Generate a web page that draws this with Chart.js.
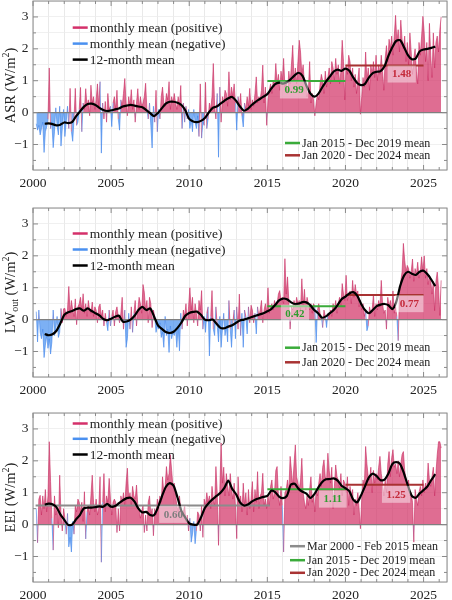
<!DOCTYPE html>
<html>
<head>
<meta charset="utf-8">
<script src="https://cdn.jsdelivr.net/npm/chart.js@4.4.0/dist/chart.umd.min.js"></script>
<style>
  html, body { margin: 0; padding: 0; background: #fff; overflow: hidden; }
  #wrap { position: relative; width: 452px; height: 600px; }
  .panel { position: absolute; left: 0; width: 452px; height: 205px; }
</style>
</head>
<body>
<div id="wrap">
  <div class="panel" style="top:-2px"><canvas id="asrChart"></canvas></div>
  <div class="panel" style="top:204.7px"><canvas id="lwChart"></canvas></div>
  <div class="panel" style="top:410.1px"><canvas id="eeiChart"></canvas></div>
</div>
<script>
// ==============================================================================
// 1. DATA (anomalies in W/m^2)
// ==============================================================================

// monthly series start in Mar 2000, one value per month up to Feb 2026
const FIRST_MONTH = 2000 + 2 / 12;
// 12-month means sampled every quarter from 2000.75 to 2025.75
const MEAN_START = 2000.75;
const MEAN_STEP = 0.25;

const xTickYears = [2000, 2005, 2010, 2015, 2020, 2025];
const yTickValues = [-1, 0, 1, 2, 3];

const legendLabels = ['monthly mean (positive)', 'monthly mean (negative)', '12-month mean'];
const periodLabels = ['Mar 2000 - Feb 2015 mean', 'Jan 2015 - Dec 2019 mean', 'Jan 2020 - Dec 2024 mean'];
const periodStart = [2000 + 2 / 12, 2015, 2020];
const periodEnd = [2015 + 2 / 12, 2020, 2025];

const asrPeriodMean = [null, 0.99, 1.48];
const lwPeriodMean = [null, 0.42, 0.77];
const eeiPeriodMean = [0.60, 1.11, 1.25];

const asrTitle = [['ASR (W/m', ''], ['2', 'sup'], [')', '']];
const lwTitle = [['LW', ''], ['out', 'sub'], [' (W/m', ''], ['2', 'sup'], [')', '']];
const eeiTitle = [['EEI (W/m', ''], ['2', 'sup'], [')', '']];

const asrMonthly = [
  -0.35,-0.55,-0.40,-0.70,-0.50,-0.30,-1.25,-0.60,-0.45,-0.20,            // 2000
  1.40,-0.50,-0.30,-1.10,-0.60,0.15,-0.40,-0.70,0.20,-1.05,-0.50,0.10,     // 2001
  -0.75,-0.30,0.20,-0.50,0.76,-0.60,-0.90,-0.20,0.76,-0.40,-0.30,0.10,     // 2002
  0.79,-0.60,0.30,0.10,0.75,0.20,0.40,-0.10,0.86,0.30,0.50,0.10,           // 2003
  0.40,0.90,0.20,0.97,-1.27,0.30,-0.20,0.35,-0.30,0.60,0.10,0.20,          // 2004
  -0.44,0.30,0.50,0.10,0.70,-0.20,-0.55,0.40,0.20,0.60,1.07,0.30,          // 2005
  -0.10,0.50,0.20,0.72,0.10,0.40,-0.30,0.30,0.75,0.10,0.50,0.20,           // 2006
  0.30,0.50,0.92,0.10,-0.20,0.30,-0.40,-1.11,0.20,-0.30,0.70,-0.60,        // 2007
  0.10,-0.20,0.50,0.80,0.30,0.20,0.60,0.40,0.97,0.10,0.50,0.30,            // 2008
  0.60,0.30,0.10,0.50,0.20,0.85,-0.50,0.30,-0.30,0.20,-0.20,0.10,          // 2009
  -0.50,-0.20,-0.60,0.10,-0.30,-0.50,-0.10,-0.75,0.90,-0.80,-0.30,-0.40,   // 2010
  0.95,-0.50,-0.20,0.30,0.10,0.50,1.54,0.20,-0.20,0.60,-1.40,0.80,         // 2011
  -0.30,0.50,0.30,0.70,0.60,0.20,1.28,0.40,0.80,0.50,0.90,0.30,            // 2012
  -0.55,0.50,0.20,0.60,-0.10,-0.45,0.30,0.10,0.50,0.20,0.76,0.10,          // 2013
  0.40,0.20,0.60,1.12,0.30,0.50,0.40,0.70,1.49,0.30,0.80,-0.40,            // 2014
  0.40,0.70,0.90,0.60,1.00,0.80,1.54,0.90,1.20,0.70,1.30,1.00,             // 2015
  1.70,0.80,1.00,0.60,1.30,0.90,1.50,2.11,1.00,1.40,0.90,1.60,             // 2016
  2.27,1.90,1.20,1.50,0.90,1.00,0.50,0.70,1.60,0.30,0.60,0.40,             // 2017
  -0.10,0.30,0.60,0.40,0.90,1.20,1.00,0.60,1.30,0.80,1.10,1.40,            // 2018
  0.90,1.60,1.40,1.00,1.70,1.20,1.50,0.90,1.30,2.27,1.60,0.40,             // 2019
  1.50,1.20,1.80,1.60,1.00,1.40,0.80,1.20,0.60,1.00,1.40,-0.05,            // 2020
  0.50,1.10,0.80,1.90,1.00,1.40,0.70,1.50,1.20,1.60,1.10,1.80,             // 2021
  1.00,1.50,1.20,1.80,1.30,0.70,1.70,2.10,1.60,2.30,2.00,2.40,             // 2022
  1.80,2.40,3.05,2.20,2.60,1.90,2.90,2.30,2.00,2.40,1.60,2.20,             // 2023
  1.50,2.50,1.90,1.20,1.70,2.00,1.30,0.90,2.20,1.80,2.40,3.02,             // 2024
  2.50,1.60,2.20,1.00,2.80,1.80,1.10,2.50,1.40,2.20,2.40,1.90,             // 2025
  2.60,3.00                                                                // 2026
];

const lwMonthly = [
  0.25,-0.70,0.30,-0.40,-0.60,-0.30,-1.19,-0.80,-0.50,-0.90,               // 2000
  -0.60,-1.08,-0.70,0.30,-0.50,-0.30,0.10,-0.56,-0.40,0.35,-0.10,0.34,     // 2001
  0.35,0.10,0.30,1.04,0.20,0.60,0.30,0.10,0.65,-0.16,0.40,0.50,            // 2002
  0.70,0.30,0.81,0.20,0.50,0.10,0.60,0.30,0.20,0.55,0.10,0.40,             // 2003
  0.30,-0.10,0.40,0.49,0.10,0.30,-0.20,0.20,-0.10,-0.35,0.30,-0.20,        // 2004
  0.10,0.30,-0.20,0.25,0.40,0.10,-0.10,0.20,0.70,-0.30,0.30,-0.87,         // 2005
  -0.60,0.20,-0.30,0.40,-0.40,0.20,0.60,-0.20,0.30,0.70,0.50,0.20,         // 2006
  1.10,0.86,0.30,0.60,-0.10,0.70,0.50,-0.25,0.30,0.10,-0.40,-0.20,         // 2007
  -0.30,-0.10,-0.56,-0.40,-0.87,0.10,-0.50,-0.30,-1.03,-0.20,-0.60,-0.40,  // 2008
  -0.50,-0.30,-0.87,-0.20,-0.98,0.20,-0.30,0.30,0.10,0.50,-0.20,0.40,      // 2009
  1.00,0.30,0.70,-0.10,0.50,0.20,-0.20,0.60,0.30,0.91,-0.30,0.10,          // 2010
  -0.40,0.20,0.40,-1.14,0.10,0.91,-0.30,-0.50,0.40,-0.20,-0.70,0.10,       // 2011
  -0.87,-0.30,0.20,-0.50,-0.20,-0.70,0.60,-0.30,-0.87,-0.10,0.30,-0.60,    // 2012
  0.40,-0.30,0.80,-0.50,0.20,-0.87,0.30,0.10,-0.45,0.40,-0.10,0.45,        // 2013
  0.30,-0.10,0.20,-0.45,0.40,0.10,0.30,0.60,-0.10,0.30,0.50,0.20,          // 2014
  1.00,0.20,0.40,0.50,0.30,0.60,0.40,0.50,0.80,0.91,0.60,0.70,             // 2015
  0.50,1.91,0.80,1.34,0.60,-0.30,0.40,0.30,0.60,0.40,0.70,0.50,            // 2016
  0.60,0.30,1.28,0.40,0.95,0.30,0.70,0.50,0.30,0.50,0.20,0.50,             // 2017
  0.40,-0.72,0.30,0.50,0.20,0.10,-0.25,0.30,0.10,-0.25,0.20,0.10,          // 2018
  0.30,0.10,0.50,0.30,0.60,0.20,0.50,0.70,0.40,1.13,0.80,0.60,             // 2019
  1.39,0.60,0.80,0.90,0.50,1.23,0.70,1.10,0.80,0.90,0.40,0.60,             // 2020
  0.30,0.50,0.10,0.30,-0.35,-0.20,0.40,0.20,0.30,0.80,0.10,0.50,           // 2021
  0.30,0.60,0.40,1.23,0.50,0.20,0.30,-0.30,0.70,0.40,0.60,0.30,            // 2022
  0.90,0.20,0.40,0.10,-0.66,0.80,1.20,1.50,2.39,1.86,1.50,1.70,            // 2023
  1.60,1.30,1.50,1.90,1.20,1.60,1.40,1.80,1.30,1.50,1.97,1.50,             // 2024
  2.00,1.30,1.60,1.10,1.40,1.23,0.80,1.20,0.28,1.20,1.49,1.00,             // 2025
  0.13,1.23                                                                // 2026
];

const eeiMonthly = [
  0.50,-0.57,0.80,0.92,0.30,0.90,0.50,1.10,0.40,0.90,                      // 2000
  2.60,1.35,0.20,-0.80,0.90,0.30,0.50,-0.10,1.55,0.30,-0.20,0.50,          // 2001
  0.20,-0.30,0.35,-0.70,-0.40,-0.86,0.10,-0.30,0.60,0.40,0.80,0.70,        // 2002
  0.40,0.70,0.10,1.03,-0.45,0.40,0.60,0.30,0.90,1.55,0.70,0.40,            // 2003
  0.80,0.30,0.50,1.50,-1.18,0.70,1.60,0.40,0.90,0.70,1.45,0.80,            // 2004
  0.30,0.70,0.80,0.70,-0.25,0.50,-0.20,0.90,0.70,1.00,0.60,1.30,           // 2005
  1.77,0.80,1.00,0.60,1.20,0.90,0.80,1.24,0.60,0.50,0.20,0.40,             // 2006
  0.60,-0.25,0.30,-0.20,0.70,0.90,0.30,0.50,-0.35,0.50,0.30,0.80,          // 2007
  0.60,0.90,0.70,1.50,1.00,1.20,1.82,1.40,1.60,2.19,1.70,1.20,             // 2008
  1.30,0.90,0.60,0.40,0.90,0.50,0.30,0.40,0.60,0.10,0.30,-0.20,            // 2009
  0.20,-0.55,-0.30,0.10,-0.60,-0.20,0.40,0.30,-0.20,0.60,-0.40,0.80,       // 2010
  0.60,1.00,0.70,0.90,0.50,1.20,0.80,0.60,1.82,1.00,-0.65,1.10,            // 2011
  2.56,1.30,1.80,0.90,1.60,1.20,0.90,1.60,1.10,0.80,1.30,0.60,             // 2012
  -0.44,1.50,0.70,0.90,0.40,1.30,0.60,1.00,0.30,1.10,0.50,0.80,            // 2013
  1.35,0.40,1.10,0.70,1.66,0.50,0.90,1.00,1.61,0.60,0.80,0.50,             // 2014
  0.90,0.60,1.20,1.40,0.80,1.00,1.70,1.82,0.90,0.60,1.20,0.60,             // 2015
  -0.86,1.00,1.10,1.40,1.00,2.14,1.70,1.20,1.90,2.50,1.50,1.30,            // 2016
  1.10,1.40,2.08,1.00,0.70,0.50,0.90,0.60,1.10,1.50,0.70,0.90,             // 2017
  0.40,1.10,0.90,1.30,1.60,1.20,1.80,2.03,1.50,1.40,2.24,1.70,             // 2018
  1.30,1.80,0.50,1.20,1.87,1.50,1.40,1.10,1.60,0.90,1.40,1.30,             // 2019
  1.00,1.50,0.60,1.20,0.90,1.10,0.30,0.80,0.60,1.00,0.50,-0.13,            // 2020
  0.80,1.40,1.20,2.45,1.90,1.50,1.40,1.80,1.00,1.70,1.30,1.60,             // 2021
  1.40,1.80,2.14,1.60,1.30,0.90,1.40,1.00,1.90,2.29,1.50,2.10,             // 2022
  2.35,1.80,1.90,1.60,2.00,1.50,1.90,2.20,2.29,1.70,1.40,1.20,             // 2023
  1.40,0.90,1.00,0.70,-0.55,1.10,0.80,0.60,1.00,1.20,0.90,1.40,            // 2024
  1.00,1.30,1.10,1.93,1.40,1.20,1.50,1.80,0.90,1.60,2.20,2.60,             // 2025
  2.60,2.40                                                                // 2026
];

const asrMean12 = [
  -0.35,                          // 2000.75
  -0.34, -0.36, -0.40, -0.38,     // 2001
  -0.31, -0.33, -0.30, -0.12,     // 2002
  0.03, 0.18, 0.27, 0.28,         // 2003
  0.24, 0.15, 0.08, 0.05,         // 2004
  0.07, 0.10, 0.13, 0.19,         // 2005
  0.22, 0.24, 0.22, 0.19,         // 2006
  0.17, 0.08, -0.02, -0.11,       // 2007
  -0.01, 0.14, 0.28, 0.34,        // 2008
  0.34, 0.31, 0.24, 0.07,         // 2009
  -0.20, -0.28, -0.30, -0.26,     // 2010
  -0.17, 0.00, 0.15, 0.19,        // 2011
  0.28, 0.37, 0.45, 0.49,         // 2012
  0.37, 0.19, 0.06, 0.12,         // 2013
  0.24, 0.34, 0.42, 0.50,         // 2014
  0.58, 0.75, 0.89, 0.94,         // 2015
  0.91, 0.95, 1.05, 1.17,         // 2016
  1.25, 1.15, 0.85, 0.60,         // 2017
  0.50, 0.58, 0.78, 0.97,         // 2018
  1.13, 1.29, 1.35, 1.31,         // 2019
  1.38, 1.31, 1.10, 0.93,         // 2020
  0.86, 0.90, 1.10, 1.24,         // 2021
  1.28, 1.30, 1.45, 1.78,         // 2022
  2.05, 2.25, 2.27, 2.05,         // 2023
  1.80, 1.67, 1.70, 1.92,         // 2024
  1.98, 2.00, 2.03, 2.07          // 2025
];

const lwMean12 = [
  -0.45,
  -0.49, -0.46, -0.35, -0.12,
  0.15, 0.23, 0.27, 0.33,
  0.35, 0.28, 0.35, 0.27,
  0.20, 0.13, 0.02, -0.02,
  0.03, 0.09, 0.12, -0.06,
  -0.06, 0.00, 0.12, 0.30,
  0.40, 0.30, 0.35, 0.10,
  -0.18, -0.29, -0.39, -0.42,
  -0.38, -0.26, -0.09, 0.12,
  0.21, 0.24, 0.25, 0.15,
  0.00, -0.02, 0.00, -0.13,
  -0.26, -0.27, -0.22, -0.18,
  -0.10, -0.03, 0.00, 0.04,
  0.08, 0.12, 0.16, 0.20,
  0.26, 0.33, 0.46, 0.60,
  0.66, 0.64, 0.55, 0.49,
  0.50, 0.55, 0.54, 0.45,
  0.30, 0.20, 0.06, 0.10,
  0.20, 0.30, 0.46, 0.64,
  0.72, 0.82, 0.86, 0.75,
  0.50, 0.30, 0.20, 0.30,
  0.42, 0.47, 0.49, 0.45,
  0.33, 0.55, 1.05, 1.38,
  1.50, 1.44, 1.40, 1.50,
  1.53, 1.42, 1.25, 1.05
];

const eeiMean12 = [
  0.63,
  0.66, 0.64, 0.55, 0.32,
  0.15, -0.01, 0.00, 0.16,
  0.30, 0.51, 0.53, 0.53,
  0.55, 0.57, 0.56, 0.65,
  0.56, 0.58, 0.67, 0.76,
  0.83, 0.84, 0.72, 0.50,
  0.38, 0.40, 0.30, 0.30,
  0.54, 0.88, 1.18, 1.30,
  1.22, 0.85, 0.43, 0.22,
  0.04, 0.00, 0.00, 0.22,
  0.52, 0.68, 0.80, 0.90,
  1.00, 1.15, 1.38, 1.12,
  0.95, 0.70, 0.60, 0.63,
  0.72, 0.79, 0.83, 0.87,
  0.90, 1.06, 1.02, 0.88,
  0.83, 0.90, 1.25, 1.28,
  1.12, 1.03, 0.97, 0.84,
  0.95, 1.15, 1.33, 1.42,
  1.43, 1.45, 1.38, 1.22,
  1.14, 1.05, 0.78, 0.70,
  0.92, 1.20, 1.48, 1.60,
  1.52, 1.39, 1.41, 1.60,
  1.90, 1.96, 1.90, 1.60,
  1.22, 0.90, 0.84, 0.98,
  1.08, 1.20, 1.40, 1.58
];

// ==============================================================================
// 2. STYLE
// ==============================================================================
const SERIF = '"Liberation Serif", "DejaVu Serif", serif';
const POS_FILL = 'rgba(212, 60, 110, 0.75)';
const POS_LINE = 'rgba(200, 40, 95, 0.85)';
const NEG_FILL = 'rgba(80, 150, 240, 0.75)';
const NEG_LINE = 'rgba(60, 130, 235, 0.85)';
const LEGEND_POS = '#d4306a';
const LEGEND_NEG = '#4a90f0';
const periodColors = ['#8c8c8c', '#3aab3a', '#a83232'];
const periodTextColors = ['#7d7d7d', '#2f9e2f', '#c42a3a'];
const FRAME = '#8a8a8a';
const PLOT_H = 169;
const PAD_TOP = 3;
const CANVAS_H = 205;

Chart.defaults.font.family = SERIF;
Chart.defaults.color = '#222';

// per-panel layout (pixel offsets are relative to the plot area)
const panels = [
  { id: 'asrChart', monthly: asrMonthly, mean12: asrMean12, periodMean: asrPeriodMean, title: asrTitle,
    labelAt: [null, [2016.71, 0.71], [2023.6, 1.21]],
    legendRows: [26.6, 42.6, 58.6], periodRows: [null, 142, 154.3], periodLegendX: 252 },
  { id: 'lwChart', monthly: lwMonthly, mean12: lwMean12, periodMean: lwPeriodMean, title: lwTitle,
    labelAt: [null, [2016.77, 0.20], [2024.09, 0.50]],
    legendRows: [25.5, 41.5, 57.5], periodRows: [null, 139.7, 154.3], periodLegendX: 252 },
  { id: 'eeiChart', monthly: eeiMonthly, mean12: eeiMean12, periodMean: eeiPeriodMean, title: eeiTitle,
    labelAt: [[2008.98, 0.32], [2019.19, 0.80], [2023.24, 0.95]],
    legendRows: [10.5, 25.8, 41.5], periodRows: [133.2, 147.2, 159.8], periodLegendX: 257 }
];

// ==============================================================================
// 3. DRAW HELPERS
// ==============================================================================

function drawYTitle(ctx, parts, cx, cy) {
  ctx.save();
  ctx.translate(cx, cy);
  ctx.rotate(-Math.PI / 2);
  const fontFor = (kind) => (kind ? '10px ' : '14.5px ') + SERIF;
  let total = 0;
  const widths = parts.map(p => {
    ctx.font = fontFor(p[1]);
    const w = ctx.measureText(p[0]).width;
    total += w;
    return w;
  });
  let xx = -total / 2;
  ctx.fillStyle = '#222';
  ctx.textBaseline = 'alphabetic';
  parts.forEach((p, i) => {
    ctx.font = fontFor(p[1]);
    const dy = p[1] === 'sup' ? -6 : (p[1] === 'sub' ? 3 : 0);
    ctx.fillText(p[0], xx, 5 + dy);
    xx += widths[i];
  });
  ctx.restore();
}

function legendEntry(ctx, x, y, color, text, size) {
  ctx.strokeStyle = color;
  ctx.lineWidth = 2.5;
  ctx.beginPath();
  ctx.moveTo(x, y);
  ctx.lineTo(x + 15, y);
  ctx.stroke();
  ctx.fillStyle = '#222';
  ctx.font = size + 'px ' + SERIF;
  ctx.textAlign = 'left';
  ctx.textBaseline = 'middle';
  ctx.fillText(text, x + 17, y + 0.5);
}

function makeDecor(panel) {
  return {
    id: 'decor_' + panel.id,
    afterDatasetsDraw(chart) {
      const { ctx, scales: { x, y } } = chart;
      panel.periodMean.forEach((m, i) => {
        if (m === null) return;
        const a = panel.labelAt[i];
        const px = x.getPixelForValue(a[0]);
        const py = y.getPixelForValue(a[1]);
        const txt = m.toFixed(2);
        ctx.save();
        ctx.font = 'bold 11px ' + SERIF;
        const w = ctx.measureText(txt).width;
        ctx.fillStyle = 'rgba(255, 255, 255, 0.45)';
        ctx.fillRect(px - w / 2 - 4.5, py - 8.5, w + 9, 17);
        ctx.fillStyle = periodTextColors[i];
        ctx.textAlign = 'center';
        ctx.textBaseline = 'middle';
        ctx.fillText(txt, px, py + 0.5);
        ctx.restore();
      });
    },
    afterDraw(chart) {
      const { ctx, chartArea: ca, scales: { x, y } } = chart;
      ctx.save();
      // frame + inward ticks
      ctx.strokeStyle = FRAME;
      ctx.lineWidth = 1;
      ctx.strokeRect(ca.left, ca.top, ca.right - ca.left, ca.bottom - ca.top);
      ctx.beginPath();
      for (let yr = 2000; yr <= 2026; yr++) {
        const px = x.getPixelForValue(yr);
        const len = yr % 5 === 0 ? 5 : 3;
        ctx.moveTo(px, ca.bottom); ctx.lineTo(px, ca.bottom - len);
        ctx.moveTo(px, ca.top); ctx.lineTo(px, ca.top + len);
      }
      for (let k = -3; k <= 6; k++) {
        const v = k * 0.5;
        const py = y.getPixelForValue(v);
        const len = k % 2 === 0 ? 5 : 3;
        ctx.moveTo(ca.left, py); ctx.lineTo(ca.left + len, py);
        ctx.moveTo(ca.right, py); ctx.lineTo(ca.right - len, py);
      }
      ctx.stroke();

      // top-left legend
      const lx = ca.left + 39.7;
      const legendColors = [LEGEND_POS, LEGEND_NEG, '#000'];
      legendLabels.forEach((t, i) => legendEntry(ctx, lx, ca.top + panel.legendRows[i], legendColors[i], t, 13.5));

      // bottom-right legend for period means
      panel.periodRows.forEach((r, i) => {
        if (r === null) return;
        legendEntry(ctx, ca.left + panel.periodLegendX, ca.top + r, periodColors[i], periodLabels[i], 12);
      });

      drawYTitle(ctx, panel.title, 9.5, (ca.top + ca.bottom) / 2);
      ctx.restore();
    }
  };
}

// ==============================================================================
// 4. CHART BUILDER
// ==============================================================================

function buildPanel(panel) {
  const monthlyPts = panel.monthly.map((v, i) => ({ x: FIRST_MONTH + (i + 0.5) / 12, y: v }));
  const meanPts = panel.mean12.map((v, i) => ({ x: MEAN_START + i * MEAN_STEP, y: v }));

  const datasets = [
    {
      data: meanPts, borderColor: '#000', borderWidth: 2.2, pointRadius: 0,
      tension: 0.25, borderJoinStyle: 'round', order: 0
    }
  ];
  panel.periodMean.forEach((m, i) => {
    if (m === null) return;
    datasets.push({
      data: [{ x: periodStart[i], y: m }, { x: periodEnd[i], y: m }],
      borderColor: periodColors[i], borderWidth: 2, pointRadius: 0, order: 1
    });
  });
  datasets.push({
    data: [{ x: 2000, y: 0 }, { x: 2026.5, y: 0 }],
    borderColor: '#7f7f7f', borderWidth: 1.3, pointRadius: 0, order: 2
  });
  datasets.push({
    data: monthlyPts, pointRadius: 0, borderWidth: 0.7, tension: 0, order: 3,
    borderColor: POS_LINE,
    fill: { target: 'origin', above: POS_FILL, below: NEG_FILL },
    segment: {
      borderColor: (c) => (c.p0.parsed.y + c.p1.parsed.y) / 2 >= 0 ? POS_LINE : NEG_LINE
    }
  });

  return new Chart(document.getElementById(panel.id), {
    type: 'line',
    data: { datasets },
    options: {
      responsive: true,
      maintainAspectRatio: false,
      animation: false,
      events: [],
      layout: { autoPadding: false, padding: { top: PAD_TOP, right: 5, left: 0, bottom: 0 } },
      plugins: { legend: { display: false }, tooltip: { enabled: false } },
      scales: {
        x: {
          type: 'linear', min: 2000, max: 2026.5,
          border: { display: false },
          grid: { color: '#e3e3e3', lineWidth: 0.8, drawTicks: false },
          ticks: {
            stepSize: 1, autoSkip: false, maxRotation: 0, padding: 5,
            font: { size: 13.5, family: SERIF }, color: '#222',
            callback: (v) => xTickYears.includes(v) ? String(v) : ''
          },
          afterFit: (s) => { s.height = CANVAS_H - PAD_TOP - PLOT_H; s.paddingLeft = 0; s.paddingRight = 0; }
        },
        y: {
          type: 'linear', min: -1.8, max: 3.5,
          border: { display: false },
          grid: { color: '#ececec', lineWidth: 0.8, drawTicks: false },
          ticks: {
            stepSize: 0.5, autoSkip: false, padding: 4.5,
            font: { size: 13.5, family: SERIF }, color: '#222',
            callback: (v) => yTickValues.includes(v) ? (v < 0 ? '\u2212' + Math.abs(v) : String(v)) : ''
          },
          afterFit: (s) => { s.width = 33; s.paddingTop = 0; s.paddingBottom = 0; }
        }
      }
    },
    plugins: [makeDecor(panel)]
  });
}

// ==============================================================================
// 5. INITIALIZATION
// ==============================================================================
panels.forEach(buildPanel);
</script>
</body>
</html>
